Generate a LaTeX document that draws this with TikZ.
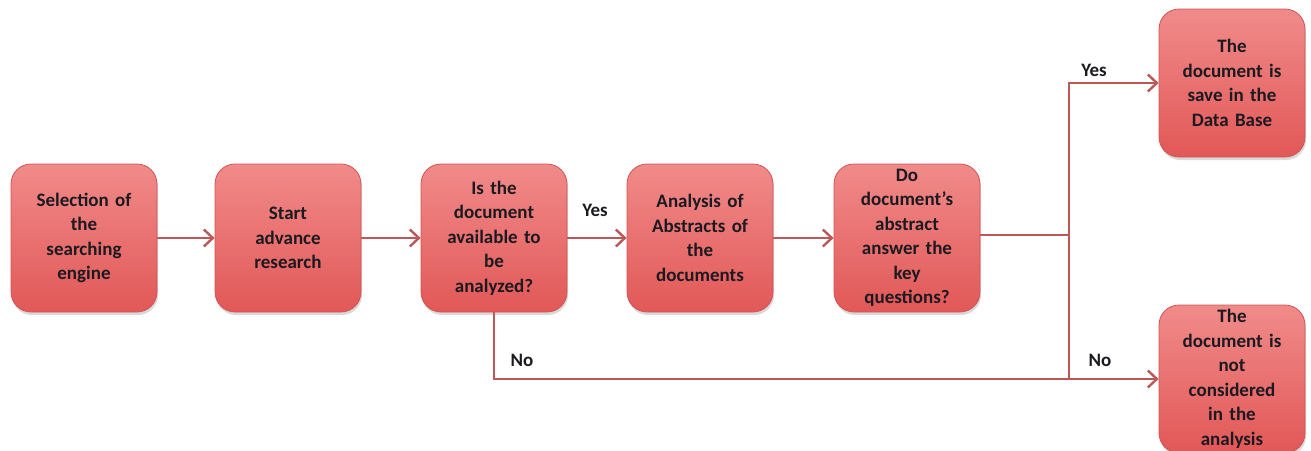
\documentclass[tikz,border=0pt]{standalone}
\usepackage{fontspec}
\setmainfont{Carlito}
\usetikzlibrary{arrows.meta,shadows}

\definecolor{boxtop}{HTML}{F08B8A}
\definecolor{boxmid}{HTML}{EB6A69}
\definecolor{boxbot}{HTML}{E15857}
\definecolor{boxedge}{HTML}{D05452}
\definecolor{flow}{HTML}{BC5958}
\definecolor{ink}{HTML}{1C1A20}

\tikzset{
  stepbox/.style={
    rectangle, rounded corners=20pt,
    minimum width=146pt, minimum height=148pt,
    text width=140pt, align=center, inner sep=0pt,
    top color=boxtop, middle color=boxmid, bottom color=boxbot,
    draw=boxedge, line width=0.8pt,
    drop shadow={shadow xshift=1pt, shadow yshift=-3pt, opacity=0.25, fill=black!60},
    font=\fontsize{19}{24.5}\selectfont\bfseries, text=ink
  },
  flowline/.style={draw=flow, line width=2.4pt},
  flowarrow/.style={flowline, -{Straight Barb[length=9pt, width=17pt, line width=2.4pt]}},
  branchlabel/.style={font=\fontsize{19}{24}\selectfont\bfseries, text=ink, inner sep=0pt}
}

\begin{document}
\begin{tikzpicture}[x=1pt, y=-1pt]
  \useasboundingbox (0,0) rectangle (1311,450);
  \clip (0,0) rectangle (1311,450);

  % process steps
  \node[stepbox] (sel)  at (84,238)   {Selection of\\the\\searching\\engine};
  \node[stepbox] (start) at (288,238) {Start\\advance\\research};
  \node[stepbox] (avail) at (494,238) {Is the\\document\\available to\\be\\analyzed?};
  \node[stepbox] (abs)  at (700,238)  {Analysis of\\Abstracts of\\the\\documents};
  \node[stepbox] (key)  at (907,238)  {Do\\document’s\\abstract\\answer the\\key\\questions?};
  \node[stepbox] (save) at (1232,83)  {The\\document is\\save in the\\Data Base};
  \node[stepbox] (skip) at (1232,379) {The\\document is\\not\\considered\\in the\\analysis};

  % junction where the second decision splits
  \coordinate (split) at (1069,235);

  % main sequence
  \draw[flowarrow] (sel) -- (start);
  \draw[flowarrow] (start) -- (avail);
  \draw[flowarrow] (avail) -- (abs);
  \draw[flowarrow] (abs) -- (key);

  % decision outcomes
  \draw[flowarrow] (avail.south) |- (skip.west);
  \draw[flowline] (key.east |- split) -- (split);
  \draw[flowarrow] (split) |- (save.west);
  \draw[flowline] (split) -- (split |- skip.west);

  % branch labels
  \node[branchlabel] (yes1) at (595,210)  {Yes};
  \node[branchlabel] (no1)  at (522,360)  {No};
  \node[branchlabel] (yes2) at (1094,70)  {Yes};
  \node[branchlabel] (no2)  at (1100,360) {No};
\end{tikzpicture}
\end{document}
